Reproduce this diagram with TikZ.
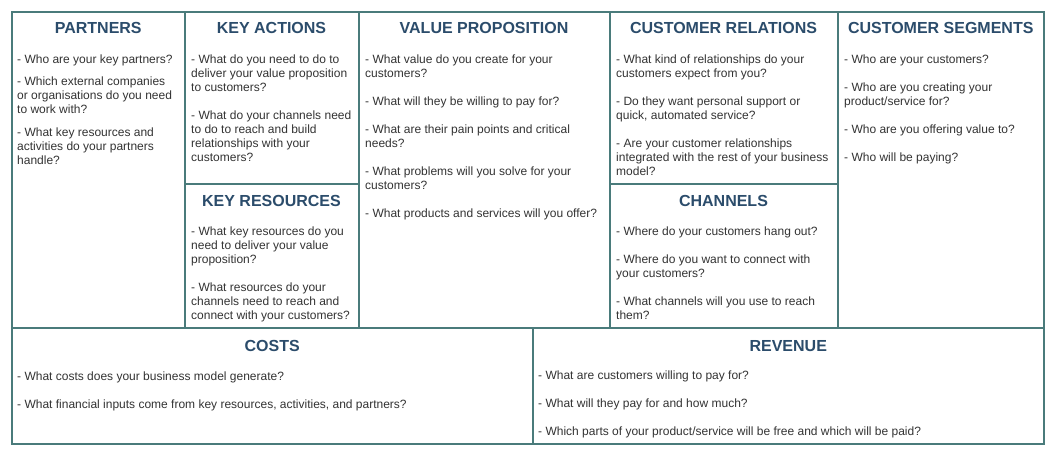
\documentclass[tikz,border=0pt]{standalone}
\usepackage{fontspec}
\setmainfont{Liberation Sans}
\usetikzlibrary{positioning}
\definecolor{framecol}{HTML}{4A7B7B}
\definecolor{headcol}{HTML}{2B4C6B}
\definecolor{bodycol}{HTML}{333333}

\begin{document}
\begin{tikzpicture}[x=1pt,y=-1pt,
	cell/.style={rectangle,draw=framecol,line width=2pt,inner sep=0pt,outer sep=0pt,anchor=north west},
	head/.style={font=\bfseries\fontsize{16}{19}\selectfont,text=headcol,inner sep=0pt,anchor=base},
	body/.style={font=\fontsize{12}{14}\selectfont,text=bodycol,align=left,inner sep=0pt,anchor=north west}]
	\useasboundingbox[fill=white] (0,0) rectangle (1055,455);

	% the cells of the canvas
	\node[cell,minimum width=172.5pt,minimum height=316pt] (partners) at (12,12)	{};
	\node[cell,minimum width=174pt,minimum height=172pt] (actions) at (184.5,12)	{};
	\node[cell,minimum width=174pt,minimum height=144pt] (resources) at (184.5,184)	{};
	\node[cell,minimum width=251pt,minimum height=316pt] (value) at (358.5,12)	{};
	\node[cell,minimum width=228pt,minimum height=172pt] (relations) at (609.5,12)	{};
	\node[cell,minimum width=228pt,minimum height=144pt] (channels) at (609.5,184)	{};
	\node[cell,minimum width=206.5pt,minimum height=316pt] (segments) at (837.5,12)	{};
	\node[cell,minimum width=520.5pt,minimum height=116pt] (costs) at (12,328)	{};
	\node[cell,minimum width=511.5pt,minimum height=116pt] (revenue) at (532.5,328)	{};

	% headings
	\node[head] (partnershead) at ([yshift=-22pt]partners.north)	{PARTNERS};
	\node[head] (actionshead) at ([yshift=-22pt]actions.north)	{KEY ACTIONS};
	\node[head] (resourceshead) at ([yshift=-22pt]resources.north)	{KEY RESOURCES};
	\node[head] (valuehead) at ([yshift=-22pt]value.north)	{VALUE PROPOSITION};
	\node[head] (relationshead) at ([yshift=-22pt]relations.north)	{CUSTOMER RELATIONS};
	\node[head] (channelshead) at ([yshift=-22pt]channels.north)	{CHANNELS};
	\node[head] (segmentshead) at ([yshift=-22pt]segments.north)	{CUSTOMER SEGMENTS};
	\node[head] (costshead) at ([yshift=-23pt]costs.north)	{COSTS};
	\node[head] (revenuehead) at ([yshift=-23pt]revenue.north)	{REVENUE};

	% questions
	\node[body] (partnerstext) at ([xshift=5pt,yshift=-42.5pt]partners.north west)
		{- Who are your key partners?\\[8.5pt]
		- Which external companies\\or organisations do you need\\to work with?\\[8.5pt]
		- What key resources and\\activities do your partners\\handle?};
	\node[body] (actionstext) at ([xshift=6.5pt,yshift=-42.5pt]actions.north west)
		{- What do you need to do to\\deliver your value proposition\\to customers?\\[14pt]
		- What do your channels need\\to do to reach and build\\relationships with your\\customers?};
	\node[body] (resourcestext) at ([xshift=6.5pt,yshift=-42.5pt]resources.north west)
		{- What key resources do you\\need to deliver your value\\proposition?\\[14pt]
		- What resources do your\\channels need to reach and\\connect with your customers?};
	\node[body] (valuetext) at ([xshift=6.5pt,yshift=-42.5pt]value.north west)
		{- What value do you create for your\\customers?\\[14pt]
		- What will they be willing to pay for?\\[14pt]
		- What are their pain points and critical\\needs?\\[14pt]
		- What problems will you solve for your\\customers?\\[14pt]
		- What products and services will you offer?};
	\node[body] (relationstext) at ([xshift=6.5pt,yshift=-42.5pt]relations.north west)
		{- What kind of relationships do your\\customers expect from you?\\[14pt]
		- Do they want personal support or\\quick, automated service?\\[14pt]
		- Are your customer relationships\\integrated with the rest of your business\\model?};
	\node[body] (channelstext) at ([xshift=6.5pt,yshift=-42.5pt]channels.north west)
		{- Where do your customers hang out?\\[14pt]
		- Where do you want to connect with\\your customers?\\[14pt]
		- What channels will you use to reach\\them?};
	\node[body] (segmentstext) at ([xshift=6.5pt,yshift=-42.5pt]segments.north west)
		{- Who are your customers?\\[14pt]
		- Who are you creating your\\product/service for?\\[14pt]
		- Who are you offering value to?\\[14pt]
		- Who will be paying?};
	\node[body] (coststext) at ([xshift=5pt,yshift=-44pt]costs.north west)
		{- What costs does your business model generate?\\[14pt]
		- What financial inputs come from key resources, activities, and partners?};
	\node[body] (revenuetext) at ([xshift=5.5pt,yshift=-43pt]revenue.north west)
		{- What are customers willing to pay for?\\[14pt]
		- What will they pay for and how much?\\[14pt]
		- Which parts of your product/service will be free and which will be paid?};
\end{tikzpicture}
\end{document}
